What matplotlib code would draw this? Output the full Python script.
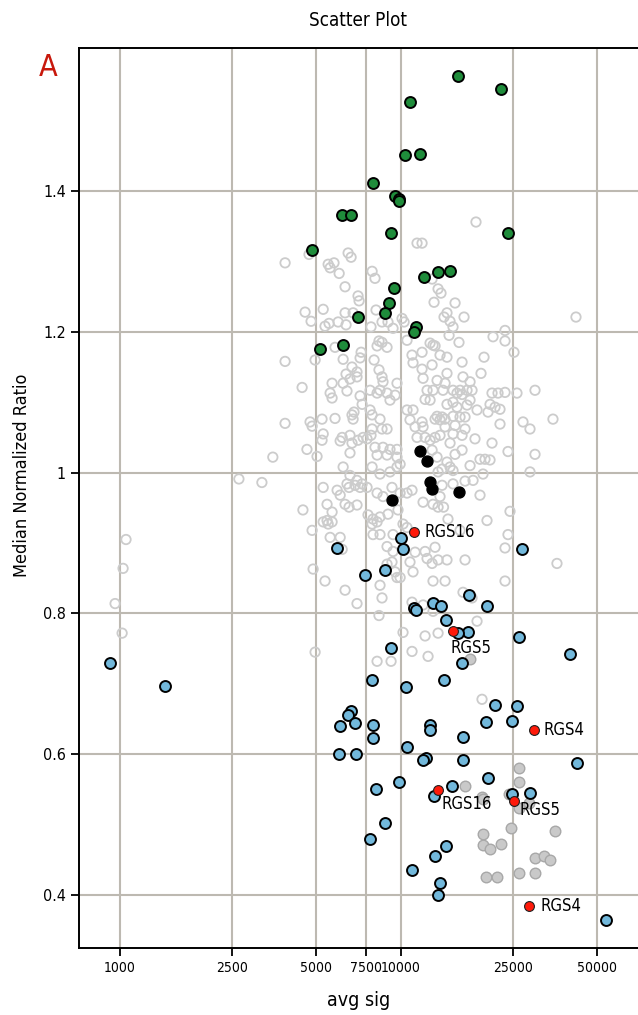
import matplotlib
matplotlib.use("Agg")
import matplotlib.pyplot as plt
from matplotlib import font_manager
from matplotlib.ticker import NullLocator


# pick a narrow font if one is there
names = {f.name for f in font_manager.fontManager.ttflist}
if "Liberation Sans Narrow" in names:
    plt.rcParams["font.family"] = ["Liberation Sans Narrow", "DejaVu Sans"]
    stretch = "normal"
else:
    plt.rcParams["font.family"] = ["DejaVu Sans"]
    stretch = "condensed"


# data: all genes (hollow grey)
gray_x = [3870, 4710, 6490, 6650, 5510, 5780, 5600, 6030, 7900, 8090,
          6330, 7040, 7100, 4560, 4790, 5290, 6330, 5980, 5550, 5370,
          6380, 6760, 7830, 8160, 8570, 9000, 9380, 10100, 10270, 11420,
          10520, 5830, 3870, 4950, 6230, 7220, 7160, 8030, 8360, 8230,
          8930, 8570, 6700, 6980, 6380, 6590, 6980, 8360, 8570, 8640,
          5690, 6230, 4450, 9690, 10960, 11050,
          11900, 12920, 13570, 13900, 13130, 15600, 14600, 14250, 14970, 15340,
          16790, 14850, 16110, 12710, 13240, 13020, 13790, 14600, 11900, 12920,
          16520, 21300, 23500, 23500, 25290, 19780, 19300, 16650, 17640, 13460,
          14370, 14600, 11900, 12000,
          3870, 4750, 4830, 5240, 5830, 5600, 5690, 6430, 6700, 6760,
          6810, 7160, 7280, 7770, 8230, 8430, 8930, 9150, 9540, 7770,
          7900, 8430, 7900, 8570, 8930, 5290, 5240, 6180, 6080, 6590,
          6700, 7040, 7340, 7580, 7830, 4630, 5030, 6590, 8090, 8640,
          9150, 9690, 8230, 8930, 9690, 10520, 11050, 10780, 11240, 11420,
          6230, 6590, 6980, 7280, 6870, 7160, 7580, 7900, 8430, 9150,
          9690, 9940, 5290, 5930, 6080, 6430, 6540, 8230, 8640, 9300,
          9940, 10520, 10960, 4480, 5460, 5690, 6330, 6540, 6980, 5460,
          5510, 5690, 5290, 7640, 7960, 8430, 9000, 7900, 8230, 9770,
          10180, 10520, 4830, 5600, 6080, 7960, 8430, 9380,
          12400, 13020, 14130, 15340, 16250, 17210, 17930, 15850, 16520, 21120,
          22190, 23500, 25920, 30050, 12200, 12710, 14600, 15340, 15850, 17210,
          17640, 20780, 21650, 22550, 20440, 18680, 13460, 14020, 14370, 13790,
          13240, 15340, 16250, 16930, 11900, 12000, 14370, 15600, 16930, 22550,
          27230, 28840, 34820, 12200, 12710, 13240, 13790, 15340, 16520, 14970,
          18370, 21120, 24080, 30050, 12920, 13460, 15600, 16520, 14600, 14970,
          14020, 13570, 15340, 17640, 19140, 19940, 20780, 19620, 18080, 14020,
          15340, 16930, 28840, 13790, 19140, 12000, 13020, 13570, 14190, 14720,
          20270, 24480, 24080, 16250,
          4870, 5370, 6330, 6980, 8430, 8570, 8360, 6180, 8930, 9380,
          8930, 9300, 9540, 9690, 9940, 11240, 10780, 11050, 10960, 10180,
          4950, 10960, 8230, 9230,
          12200, 13240, 12400, 12920, 13570, 14600, 16930, 23500, 35980, 13020,
          14370, 23500, 16650, 17930, 12000, 13020, 18680, 12200, 13570, 12500,
          19460,
          42050, 18520, 1050, 1025, 960, 1017, 2650, 3200, 3500]
gray_y = [1.298, 1.310, 1.312, 1.306, 1.296, 1.298, 1.291, 1.283, 1.286, 1.276,
          1.264, 1.251, 1.244, 1.228, 1.215, 1.232, 1.227, 1.214, 1.212, 1.208,
          1.210, 1.227, 1.207, 1.231, 1.214, 1.214, 1.205, 1.219, 1.214, 1.326,
          1.188, 1.178, 1.158, 1.160, 1.161, 1.171, 1.163, 1.160, 1.187, 1.180,
          1.178, 1.185, 1.150, 1.143, 1.140, 1.133, 1.136, 1.146, 1.136, 1.129,
          1.127, 1.127, 1.121, 1.127, 1.167, 1.156,
          1.326, 1.275, 1.261, 1.255, 1.242, 1.241, 1.227, 1.221, 1.215, 1.207,
          1.221, 1.195, 1.185, 1.184, 1.180, 1.181, 1.167, 1.164, 1.171, 1.153,
          1.157, 1.193, 1.202, 1.187, 1.171, 1.164, 1.141, 1.136, 1.129, 1.131,
          1.127, 1.141, 1.147, 1.134,
          1.070, 1.072, 1.066, 1.076, 1.077, 1.113, 1.106, 1.116, 1.082, 1.076,
          1.086, 1.109, 1.097, 1.117, 1.113, 1.117, 1.113, 1.103, 1.110, 1.089,
          1.082, 1.076, 1.062, 1.062, 1.062, 1.055, 1.046, 1.050, 1.045, 1.053,
          1.042, 1.046, 1.050, 1.048, 1.053, 1.033, 1.023, 1.028, 1.036, 1.036,
          1.033, 1.033, 1.025, 1.025, 1.022, 1.089, 1.089, 1.075, 1.065, 1.050,
          1.008, 0.996, 0.989, 0.984, 0.982, 0.979, 0.979, 1.008, 0.998, 1.001,
          1.008, 1.012, 0.979, 0.975, 0.968, 0.984, 0.979, 0.971, 0.966, 0.979,
          0.971, 0.971, 0.975, 0.947, 0.955, 0.944, 0.955, 0.951, 0.954, 0.932,
          0.927, 0.930, 0.930, 0.940, 0.934, 0.937, 0.941, 0.927, 0.930, 0.947,
          0.927, 0.922, 0.918, 0.908, 0.908, 0.912, 0.912, 0.912,
          1.117, 1.117, 1.117, 1.117, 1.117, 1.117, 1.117, 1.113, 1.111, 1.113,
          1.113, 1.114, 1.113, 1.117, 1.104, 1.103, 1.097, 1.100, 1.093, 1.096,
          1.103, 1.097, 1.093, 1.090, 1.086, 1.089, 1.080, 1.079, 1.076, 1.075,
          1.076, 1.080, 1.079, 1.079, 1.072, 1.065, 1.065, 1.067, 1.062, 1.069,
          1.072, 1.062, 1.076, 1.050, 1.046, 1.050, 1.053, 1.055, 1.053, 1.042,
          1.048, 1.042, 1.030, 1.026, 1.032, 1.022, 1.026, 1.032, 1.015, 1.008,
          1.005, 1.001, 1.003, 1.010, 1.019, 1.019, 1.018, 0.998, 0.989, 0.982,
          0.984, 0.988, 1.001, 0.966, 0.968, 0.958, 0.955, 0.951, 0.951, 0.934,
          0.932, 0.945, 0.912, 0.918,
          0.863, 0.846, 0.833, 0.814, 0.840, 0.822, 0.797, 0.891, 0.895, 0.888,
          0.870, 0.873, 0.859, 0.851, 0.851, 0.887, 0.873, 0.859, 0.816, 0.773,
          0.745, 0.746, 0.732, 0.732,
          0.888, 0.894, 0.878, 0.871, 0.876, 0.876, 0.876, 0.893, 0.871, 0.846,
          0.846, 0.846, 0.830, 0.822, 0.812, 0.803, 0.789, 0.768, 0.772, 0.739,
          0.678,
          1.221, 1.356, 0.905, 0.864, 0.814, 0.772, 0.991, 0.986, 1.022]

# filled grey
grayf_x = [26360, 26300, 16890, 19510, 19690, 24230, 28540, 26360, 24630, 35400,
           19570, 19570, 20730, 22740, 30060, 32430, 33980, 20110, 22010, 26300,
           30100, 17640]
grayf_y = [0.580, 0.561, 0.555, 0.539, 0.537, 0.543, 0.530, 0.523, 0.495, 0.491,
           0.487, 0.471, 0.466, 0.473, 0.452, 0.456, 0.450, 0.425, 0.425, 0.431,
           0.431, 0.735]

# up (green)
green_x = [15990, 22730, 10780, 10350, 11700, 7970, 9540, 9850, 9850, 6180,
           6650, 9220, 24090, 4820, 12100, 13570, 14970, 9470, 9080, 8770,
           7040, 11330, 11140, 5160, 6230]
green_y = [1.563, 1.545, 1.527, 1.451, 1.453, 1.411, 1.393, 1.389, 1.386, 1.366,
           1.366, 1.340, 1.340, 1.316, 1.278, 1.285, 1.286, 1.262, 1.241, 1.227,
           1.221, 1.207, 1.200, 1.175, 1.181]

# down (blue)
blue_x = [9990, 5930, 10180, 27080, 7440, 8810, 17540, 13020, 13870, 20320,
          11120, 11360, 14490, 17390, 16030, 26300, 40130, 9230, 16520, 7880,
          14220, 10460, 21600, 25990, 6650, 6500, 6090, 6890, 7960, 7960,
          12710, 12680, 20110, 24950, 16610, 6040, 6940, 10550, 12270, 12030,
          16610, 42420, 20490, 9880, 8140, 15260, 13130, 24950, 28920, 8810,
          7770, 14490, 13240, 10990, 13760, 13570, 53800, 921, 1443]
blue_y = [0.907, 0.893, 0.891, 0.891, 0.855, 0.861, 0.826, 0.815, 0.810, 0.810,
          0.808, 0.805, 0.790, 0.773, 0.772, 0.766, 0.743, 0.751, 0.730, 0.705,
          0.705, 0.695, 0.670, 0.669, 0.661, 0.655, 0.640, 0.645, 0.641, 0.623,
          0.642, 0.635, 0.646, 0.647, 0.625, 0.600, 0.600, 0.610, 0.595, 0.592,
          0.592, 0.587, 0.566, 0.560, 0.550, 0.555, 0.540, 0.543, 0.545, 0.502,
          0.479, 0.469, 0.455, 0.435, 0.417, 0.400, 0.364, 0.730, 0.697]

# controls (black)
black_x = [11680, 12400, 12740, 12920, 16080, 9330]
black_y = [1.031, 1.016, 0.987, 0.977, 0.973, 0.961]

# RGS genes (red, labelled)
rgs_names = ["RGS16", "RGS5", "RGS4", "RGS16", "RGS5", "RGS4"]
rgs_x = [11170, 15380, 29850, 13600, 25250, 28700]
rgs_y = [0.916, 0.775, 0.635, 0.549, 0.534, 0.384]
rgs_offsets = [(7, 0), (-2, -12), (7, 0), (2, -10), (4, -7), (8, 0)]

xticks = [1000, 2500, 5000, 7500, 10000, 25000, 50000]
yticks = [0.4, 0.6, 0.8, 1.0, 1.2, 1.4]
ytick_labels = ["0.4", "0.6", "0.8", "1", "1.2", "1.4"]


# plot figure
fig = plt.figure(figsize=(6.38, 10.15), dpi=100)
ax = fig.add_axes([0.1238, 0.066, 0.8762, 0.8867])

ax.set_xscale("log")
ax.set_xlim(714, 69930)
ax.set_ylim(0.3247, 1.6032)

ax.grid(color="#bdb9b1", linewidth=1.5)
ax.set_axisbelow(True)

ax.scatter(gray_x, gray_y, s=46, facecolors="none", edgecolors="#cccccc",
           linewidths=1.3, zorder=2)
ax.scatter(grayf_x, grayf_y, s=58, facecolors="#c9c9c9", edgecolors="#a8a8a8",
           linewidths=1.0, zorder=3)
ax.scatter(green_x, green_y, s=62, facecolors="#1f8c3b", edgecolors="black",
           linewidths=1.4, zorder=4)
ax.scatter(blue_x, blue_y, s=62, facecolors="#72b8db", edgecolors="black",
           linewidths=1.4, zorder=4)
ax.scatter(black_x, black_y, s=62, facecolors="black", edgecolors="black",
           linewidths=1.0, zorder=5)
ax.scatter(rgs_x, rgs_y, s=50, facecolors="#ff1a0a", edgecolors="#202020",
           linewidths=0.8, zorder=6)

for name, x, y, off in zip(rgs_names, rgs_x, rgs_y, rgs_offsets):
    ax.annotate(name, (x, y), xytext=off, textcoords="offset points",
                ha="left", va="center", fontsize=12, fontstretch=stretch,
                zorder=7)

ax.set_xticks(xticks)
ax.set_xticklabels([str(t) for t in xticks])
ax.xaxis.set_minor_locator(NullLocator())
ax.set_yticks(yticks)
ax.set_yticklabels(ytick_labels)
ax.tick_params(direction="out", length=6, width=1.3, labelsize=11.5)
ax.tick_params(axis="x", labelsize=10)
for lab in ax.get_xticklabels() + ax.get_yticklabels():
    lab.set_fontstretch(stretch)

ax.spines["right"].set_visible(False)
for s in ["left", "bottom", "top"]:
    ax.spines[s].set_linewidth(1.4)

fig.text(0.5619, 1 - 20 / 1015, "Scatter Plot", ha="center", va="center",
         fontsize=13.5, fontstretch=stretch)
fig.text(0.5619, 1 - 1000 / 1015, "avg sig", ha="center", va="center",
         fontsize=14, fontstretch=stretch)
fig.text(22 / 638, 1 - 475 / 1015, "Median Normalized Ratio", ha="center",
         va="center", rotation=90, fontsize=13, fontstretch=stretch)
fig.text(48 / 638, 1 - 68 / 1015, "A", ha="center", va="center",
         fontsize=22, color="#c8180c", fontstretch=stretch)

fig.savefig("out.png", dpi=100)
